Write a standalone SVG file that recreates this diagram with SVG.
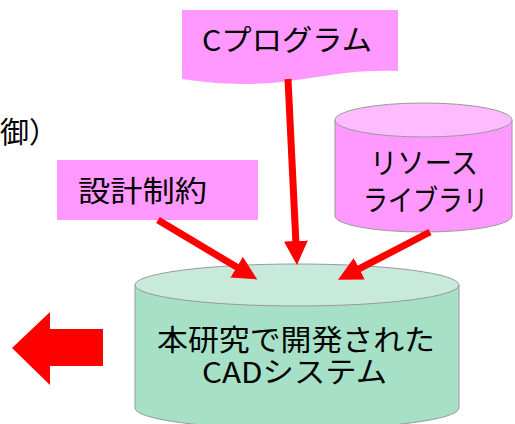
<svg xmlns="http://www.w3.org/2000/svg" width="515" height="424" viewBox="0 0 515 424">
<style>
text{font-family:"Noto Sans CJK JP","Noto Sans CJK SC",sans-serif;fill:#000;font-size:29px}
.pink{fill:#ff99ff}
.pinktop{fill:#ffbbff;stroke:#999;stroke-width:1}
.pinkbody{fill:#ff99ff;stroke:#999;stroke-width:1}
.greenbody{fill:#a6e0c6;stroke:#999;stroke-width:1}
.greentop{fill:#c8eadb;stroke:#999;stroke-width:1}
.conn{stroke:#ff0000;stroke-width:7;fill:none}
</style>
<defs>
<marker id="ah" markerUnits="userSpaceOnUse" markerWidth="26" markerHeight="26" refX="1" refY="12" orient="auto">
<path d="M0,0 L24,12 L0,24 Z" fill="#ff0000"/>
</marker>
</defs>
<rect width="515" height="424" fill="#fff"/>
<g id="partial-label">
<text x="0" y="143" font-size="23">御）</text>
</g>
<g id="resource-library">
<path class="pinkbody" d="M335,120 V216 A88.5,16 0 0 0 512,216 V120 Z"/>
<ellipse class="pinktop" cx="423.5" cy="120" rx="88.5" ry="17"/>
<text x="370" y="174" textLength="108" lengthAdjust="spacingAndGlyphs">リソース</text>
<text x="363" y="211" textLength="125" lengthAdjust="spacingAndGlyphs">ライブラリ</text>
</g>
<g id="cad-system">
<path class="greenbody" d="M135,285 V408 A162,21 0 0 0 459,408 V285 Z"/>
<ellipse class="greentop" cx="297" cy="285" rx="162" ry="21"/>
<text x="157" y="351" textLength="278" lengthAdjust="spacingAndGlyphs">本研究で開発された</text>
<text x="202" y="383" textLength="185" lengthAdjust="spacingAndGlyphs">CADシステム</text>
</g>
<g id="c-program">
<path class="pink" d="M182,10 H398 V71 C340,68 300,84 245,84 C215,84 198,81 182,79 Z"/>
<text x="202" y="51" textLength="170" lengthAdjust="spacingAndGlyphs">Cプログラム</text>
</g>
<g id="design-constraints">
<rect class="pink" x="57" y="160" width="201" height="60"/>
<text x="78" y="202" textLength="129" lengthAdjust="spacingAndGlyphs">設計制約</text>
</g>
<g id="connectors">
<line class="conn" x1="288" y1="79" x2="295.9" y2="242" marker-end="url(#ah)"/>
<line class="conn" x1="158" y1="220" x2="237.5" y2="267.6" marker-end="url(#ah)"/>
<line class="conn" x1="430" y1="232" x2="358.4" y2="269.2" marker-end="url(#ah)"/>
</g>
<g id="output-arrow">
<polygon points="12,348 50,312 50,329 103,329 103,366 50,366 50,385" fill="#ff0000"/>
</g>
</svg>
